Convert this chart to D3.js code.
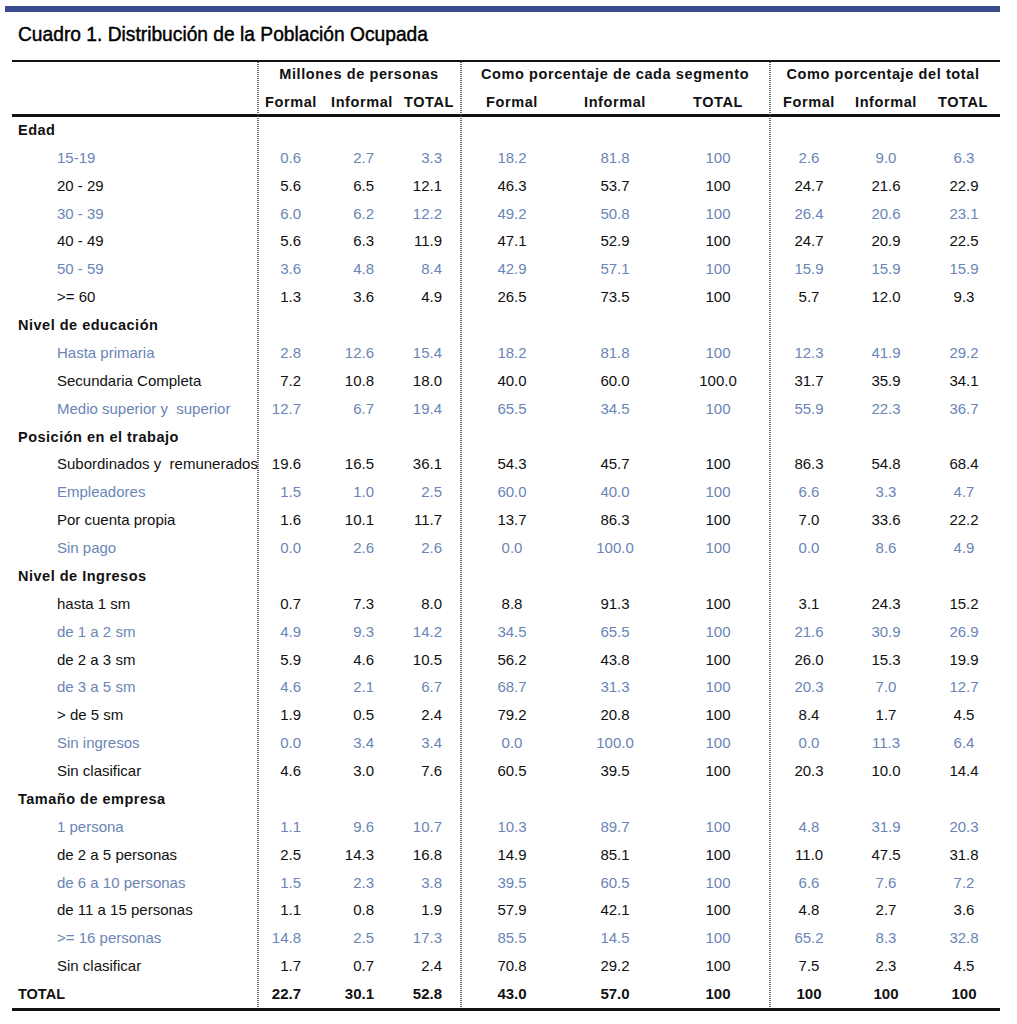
<!DOCTYPE html>
<html><head><meta charset="utf-8">
<script src="https://cdn.jsdelivr.net/npm/d3@7"></script>
<style>body{margin:0;background:#fff}svg{display:block}</style>
</head><body>
<script>
const rowLabels = ["Edad","15-19","20 - 29","30 - 39","40 - 49","50 - 59",">= 60",
"Nivel de educación","Hasta primaria","Secundaria Completa","Medio superior y  superior",
"Posición en el trabajo","Subordinados y  remunerados","Empleadores","Por cuenta propia","Sin pago",
"Nivel de Ingresos","hasta 1 sm","de 1 a 2 sm","de 2 a 3 sm","de 3 a 5 sm","> de 5 sm","Sin ingresos","Sin clasificar",
"Tamaño de empresa","1 persona","de 2 a 5 personas","de 6 a 10 personas","de 11 a 15 personas",">= 16 personas","Sin clasificar","TOTAL"];
const rowTypes = ["s","b","k","b","k","b","k",
"s","b","k","b",
"s","k","b","k","b",
"s","k","b","k","b","k","b","k",
"s","b","k","b","k","b","k","t"];
const millFormal   = [null,"0.6","5.6","6.0","5.6","3.6","1.3",null,"2.8","7.2","12.7",null,"19.6","1.5","1.6","0.0",null,"0.7","4.9","5.9","4.6","1.9","0.0","4.6",null,"1.1","2.5","1.5","1.1","14.8","1.7","22.7"];
const millInformal = [null,"2.7","6.5","6.2","6.3","4.8","3.6",null,"12.6","10.8","6.7",null,"16.5","1.0","10.1","2.6",null,"7.3","9.3","4.6","2.1","0.5","3.4","3.0",null,"9.6","14.3","2.3","0.8","2.5","0.7","30.1"];
const millTotal    = [null,"3.3","12.1","12.2","11.9","8.4","4.9",null,"15.4","18.0","19.4",null,"36.1","2.5","11.7","2.6",null,"8.0","14.2","10.5","6.7","2.4","3.4","7.6",null,"10.7","16.8","3.8","1.9","17.3","2.4","52.8"];
const segFormal    = [null,"18.2","46.3","49.2","47.1","42.9","26.5",null,"18.2","40.0","65.5",null,"54.3","60.0","13.7","0.0",null,"8.8","34.5","56.2","68.7","79.2","0.0","60.5",null,"10.3","14.9","39.5","57.9","85.5","70.8","43.0"];
const segInformal  = [null,"81.8","53.7","50.8","52.9","57.1","73.5",null,"81.8","60.0","34.5",null,"45.7","40.0","86.3","100.0",null,"91.3","65.5","43.8","31.3","20.8","100.0","39.5",null,"89.7","85.1","60.5","42.1","14.5","29.2","57.0"];
const segTotal     = [null,"100","100","100","100","100","100",null,"100","100.0","100",null,"100","100","100","100",null,"100","100","100","100","100","100","100",null,"100","100","100","100","100","100","100"];
const totFormal    = [null,"2.6","24.7","26.4","24.7","15.9","5.7",null,"12.3","31.7","55.9",null,"86.3","6.6","7.0","0.0",null,"3.1","21.6","26.0","20.3","8.4","0.0","20.3",null,"4.8","11.0","6.6","4.8","65.2","7.5","100"];
const totInformal  = [null,"9.0","21.6","20.6","20.9","15.9","12.0",null,"41.9","35.9","22.3",null,"54.8","3.3","33.6","8.6",null,"24.3","30.9","15.3","7.0","1.7","11.3","10.0",null,"31.9","47.5","7.6","2.7","8.3","2.3","100"];
const totTotal     = [null,"6.3","22.9","23.1","22.5","15.9","9.3",null,"29.2","34.1","36.7",null,"68.4","4.7","22.2","4.9",null,"15.2","26.9","19.9","12.7","4.5","6.4","14.4",null,"20.3","31.8","7.2","3.6","32.8","4.5","100"];
const groupHeaders = ["Millones de personas","Como porcentaje de cada segmento","Como porcentaje del total"];
const subHeaders = ["Formal","Informal","TOTAL"];

const W = 1017, H = 1024;
const svg = d3.select("body").append("svg").attr("width", W).attr("height", H);
const BLUE = "#6a85b6", BLACK = "#111";
const font = "'Liberation Sans', Arial, sans-serif";

// top bar
svg.append("rect").attr("x", 5).attr("y", 6).attr("width", 995).attr("height", 6).attr("fill", "#3a4c8e");
svg.append("text").attr("x", 18).attr("y", 41).text("Cuadro 1. Distribución de la Población Ocupada")
  .attr("font-family", "'Liberation Sans Narrow', 'Arial Narrow', 'Liberation Sans', sans-serif").attr("font-size", 20.5)
  .attr("textLength", 410).attr("lengthAdjust", "spacingAndGlyphs")
  .attr("fill", "#000").attr("stroke", "#000").attr("stroke-width", 0.45);

// rows
const y = d3.scaleBand().domain(d3.range(rowLabels.length)).range([116, 1008]).padding(0);

// columns
const cols = [
  {data: millFormal, x: 301, anchor: "end", h: 291},
  {data: millInformal, x: 374, anchor: "end", h: 362},
  {data: millTotal, x: 442, anchor: "end", h: 429},
  {data: segFormal, x: 512, anchor: "middle", h: 512},
  {data: segInformal, x: 615, anchor: "middle", h: 615},
  {data: segTotal, x: 718, anchor: "middle", h: 718},
  {data: totFormal, x: 809, anchor: "middle", h: 809},
  {data: totInformal, x: 886, anchor: "middle", h: 886},
  {data: totTotal, x: 964, anchor: "middle", h: 963}
];
const groupX = [359, 615, 883];

// rules
svg.append("rect").attr("x", 12).attr("y", 60).attr("width", 988).attr("height", 2).attr("fill", "#111");
svg.append("rect").attr("x", 12).attr("y", 114).attr("width", 988).attr("height", 3).attr("fill", "#111");
svg.append("rect").attr("x", 12).attr("y", 1008).attr("width", 988).attr("height", 3).attr("fill", "#111");
[258, 461, 770].forEach(x => {
  svg.append("line").attr("x1", x).attr("x2", x).attr("y1", 62).attr("y2", 1008)
    .attr("stroke", "#444").attr("stroke-width", 1.6).attr("stroke-dasharray", "1,1");
});

// headers
groupHeaders.forEach((g, i) => {
  svg.append("text").attr("x", groupX[i]).attr("y", 79).attr("text-anchor", "middle").text(g)
    .attr("font-family", font).attr("font-size", 14.5).attr("font-weight", "bold")
    .attr("letter-spacing", 0.6).attr("fill", "#111");
});
cols.forEach((c, i) => {
  svg.append("text").attr("x", c.h).attr("y", 107).attr("text-anchor", "middle").text(subHeaders[i % 3])
    .attr("font-family", font).attr("font-size", 14.5).attr("font-weight", "bold")
    .attr("letter-spacing", 0.6).attr("fill", "#111");
});

// body
const rows = svg.append("g").selectAll("g").data(rowLabels).join("g")
  .attr("transform", (d, i) => `translate(0,${y(i) + y.bandwidth() / 2 + 5})`);
rows.append("text")
  .attr("x", (d, i) => rowTypes[i] === "s" || rowTypes[i] === "t" ? 18 : 57)
  .text(d => d)
  .attr("xml:space", "preserve").style("white-space", "pre")
  .attr("font-family", font).attr("font-size", (d, i) => rowTypes[i] === "s" || rowTypes[i] === "t" ? 14.5 : 15)
  .attr("font-weight", (d, i) => rowTypes[i] === "s" || rowTypes[i] === "t" ? "bold" : "normal")
  .attr("letter-spacing", (d, i) => rowTypes[i] === "s" ? 0.5 : 0)
  .attr("fill", (d, i) => rowTypes[i] === "b" ? BLUE : BLACK);
cols.forEach(c => {
  rows.append("text")
    .attr("x", c.x).attr("text-anchor", c.anchor)
    .text((d, i) => c.data[i] == null ? "" : c.data[i])
    .attr("font-family", font).attr("font-size", 15)
    .attr("font-weight", (d, i) => rowTypes[i] === "t" ? "bold" : "normal")
    .attr("fill", (d, i) => rowTypes[i] === "b" ? BLUE : BLACK);
});
</script>
</body></html>
